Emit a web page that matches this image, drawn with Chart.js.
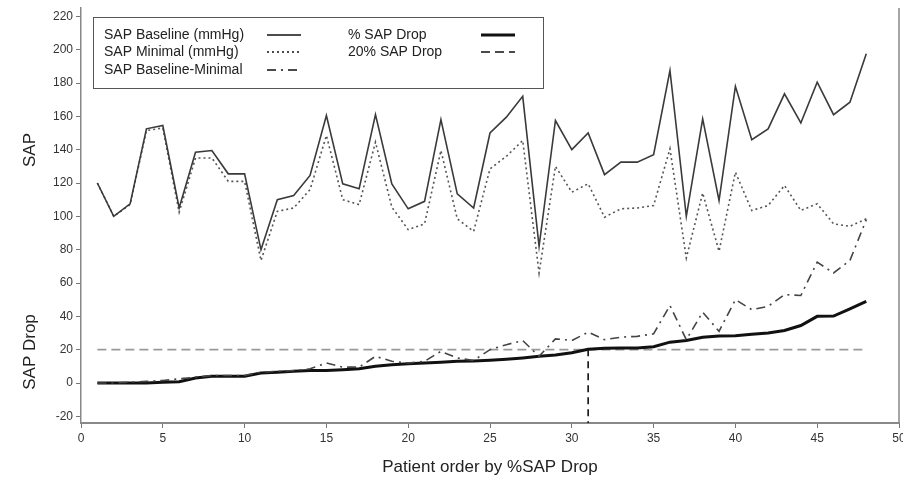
<!DOCTYPE html>
<html>
<head>
<meta charset="utf-8">
<script src="https://cdn.jsdelivr.net/npm/chart.js@4/dist/chart.umd.min.js"></script>
<style>
  html, body { margin: 0; padding: 0; background: #fff; }
  #wrap { width: 903px; height: 485px; }
</style>
</head>
<body>
<div id="wrap"><canvas id="myChart" width="903" height="485"></canvas></div>
<script>
// patient order 1..48
var patients = [1,2,3,4,5,6,7,8,9,10,11,12,13,14,15,16,17,18,19,20,21,22,23,24,
  25,26,27,28,29,30,31,32,33,34,35,36,37,38,39,40,41,42,43,44,45,46,47,48];

var sapBaseline = [120,100,107.5,152.5,154.5,105,138.5,139.5,125.5,125.5,80,110,112.5,124.5,160.5,119.5,
  116.5,161,119.5,104.5,109,158,113.5,105,150,159.5,172,82,157.5,140,150,125,
  132.5,132.5,137,187.5,100,158.5,109.5,178,146,152.5,173.5,156,180.5,161,168.5,197.5];

var sapMinimal = [120,100,107,151.5,153,102.5,135,135,121,121,73.5,103,105,116,148.5,110,
  107,144.5,105.5,92,95.5,139.5,98.5,91,128.5,136,145.5,66,130,114.5,119.5,99.5,
  104.5,105,106.5,140.5,75,114,79,126.5,103.5,106.5,118.5,103.5,107.5,95.5,94,98.5];

var sapDiff = [0,0,0.5,1,1.5,2.5,3.5,4.5,4.5,4.5,6.5,7,7.5,8.5,12,9.5,
  9.5,16,13,12,13,19,15,13.5,20,23,25.5,16,26.5,25.5,30.5,26,
  27.5,28,29.5,46.5,26,42.5,31,50,44,46,53,52.5,72.5,66,73.5,98];

var sapDropPct = [0,0,0,0,0.5,0.8,3,4,4,4,6,6.5,7,7.5,7.5,8,
  8.5,10,11,11.5,12,12.5,13,13.2,13.6,14.2,15,16,16.8,18.2,20.3,20.8,
  21,21,21.8,24.5,25.5,27.5,28.2,28.3,29.2,30,31.5,34.5,40,40.2,44.5,49];

var threshold = 20;       // 20% SAP Drop
var thresholdPatient = 31; // first patient above 20%
var yTicks = [-20,0,20,40,60,80,100,120,140,160,180,200,220];
var xTicks = [0,5,10,15,20,25,30,35,40,45,50];

function toPoints(values) {
  return patients.map(function (p, i) { return { x: p, y: values[i] }; });
}

var yMin = -24, yMax = 225;

// legend + axis titles drawn by hand
var extras = {
  id: 'extras',
  afterDraw: function (chart) {
    var ctx = chart.ctx;
    var area = chart.chartArea;
    ctx.save();

    // right border of the plot frame
    ctx.strokeStyle = '#888';
    ctx.lineWidth = 1.5;
    ctx.beginPath();
    ctx.moveTo(area.right, area.top);
    ctx.lineTo(area.right, area.bottom);
    ctx.stroke();

    // axis titles
    ctx.fillStyle = '#222';
    ctx.font = '17px "Liberation Sans", Arial, sans-serif';
    ctx.textAlign = 'center';
    ctx.textBaseline = 'middle';
    ctx.fillText('Patient order by %SAP Drop', 490, 467);

    ctx.save();
    ctx.translate(30, 150);
    ctx.rotate(-Math.PI / 2);
    ctx.fillText('SAP', 0, 0);
    ctx.restore();
    ctx.save();
    ctx.translate(30, 352);
    ctx.rotate(-Math.PI / 2);
    ctx.fillText('SAP Drop', 0, 0);
    ctx.restore();

    // legend box
    ctx.fillStyle = '#fff';
    ctx.fillRect(93, 17, 450, 71);
    ctx.strokeStyle = '#555';
    ctx.lineWidth = 1;
    ctx.strokeRect(93.5, 17.5, 450, 71);

    ctx.fillStyle = '#222';
    ctx.font = '14px "Liberation Sans", Arial, sans-serif';
    ctx.textAlign = 'left';
    var items = [
      { text: 'SAP Baseline (mmHg)', x: 104, y: 35, sx: 267, ds: chart.data.datasets[0] },
      { text: 'SAP Minimal (mmHg)', x: 104, y: 52, sx: 267, ds: chart.data.datasets[1] },
      { text: 'SAP Baseline-Minimal', x: 104, y: 70, sx: 267, ds: chart.data.datasets[2] },
      { text: '% SAP Drop', x: 348, y: 35, sx: 481, ds: chart.data.datasets[3] },
      { text: '20% SAP Drop', x: 348, y: 52, sx: 481, ds: chart.data.datasets[4] }
    ];
    items.forEach(function (it) {
      ctx.fillStyle = '#222';
      ctx.fillText(it.text, it.x, it.y);
      ctx.strokeStyle = '#111';
      ctx.lineWidth = it.ds.borderWidth;
      ctx.setLineDash(it.ds.borderDash || []);
      ctx.beginPath();
      ctx.moveTo(it.sx, it.y);
      ctx.lineTo(it.sx + 34, it.y);
      ctx.stroke();
    });
    ctx.setLineDash([]);
    ctx.restore();
  }
};

var ctx = document.getElementById('myChart').getContext('2d');
var myChart = new Chart(ctx, {
  type: 'line',
  data: {
    datasets: [{
      label: 'SAP Baseline (mmHg)',
      data: toPoints(sapBaseline),
      borderColor: '#3a3a3a',
      borderWidth: 1.6
    }, {
      label: 'SAP Minimal (mmHg)',
      data: toPoints(sapMinimal),
      borderColor: '#555',
      borderWidth: 1.6,
      borderDash: [2, 3]
    }, {
      label: 'SAP Baseline-Minimal',
      data: toPoints(sapDiff),
      borderColor: '#444',
      borderWidth: 1.6,
      borderDash: [9, 5, 2, 5]
    }, {
      label: '% SAP Drop',
      data: toPoints(sapDropPct),
      borderColor: '#111',
      borderWidth: 3
    }, {
      label: '20% SAP Drop',
      data: [{ x: patients[0], y: threshold }, { x: patients[patients.length - 1], y: threshold }],
      borderColor: '#9a9a9a',
      borderWidth: 1.6,
      borderDash: [9, 5]
    }, {
      label: 'cut',
      data: [{ x: thresholdPatient, y: sapDropPct[thresholdPatient - 1] }, { x: thresholdPatient, y: yMin }],
      borderColor: '#111',
      borderWidth: 1.6,
      borderDash: [7, 5]
    }]
  },
  options: {
    responsive: false,
    animation: false,
    layout: { padding: { top: 8, right: 4, left: 0, bottom: 0 } },
    elements: { point: { radius: 0 }, line: { tension: 0, fill: false } },
    plugins: { legend: { display: false }, tooltip: { enabled: false } },
    scales: {
      x: {
        type: 'linear',
        min: 0,
        max: 50,
        afterBuildTicks: function (scale) {
          scale.ticks = xTicks.map(function (v) { return { value: v }; });
        },
        afterFit: function (scale) {
          scale.height = 62;
          scale.paddingLeft = 0;
          scale.paddingRight = 0;
        },
        grid: { drawOnChartArea: false, drawTicks: true, tickLength: 5, color: '#777' },
        border: { display: true, color: '#888', width: 2 },
        ticks: { color: '#333', font: { size: 12, family: '"Liberation Sans", Arial, sans-serif' }, padding: 3, maxRotation: 0 }
      },
      y: {
        type: 'linear',
        min: yMin,
        max: yMax,
        afterBuildTicks: function (scale) {
          scale.ticks = yTicks.map(function (v) { return { value: v }; });
        },
        afterFit: function (scale) {
          scale.width = 81;
          scale.paddingTop = 0;
          scale.paddingBottom = 0;
        },
        grid: { drawOnChartArea: false, drawTicks: true, tickLength: 5, color: '#777' },
        border: { display: true, color: '#888', width: 1.5 },
        ticks: { color: '#333', font: { size: 12, family: '"Liberation Sans", Arial, sans-serif' }, padding: 3 }
      }
    }
  },
  plugins: [extras]
});
</script>
</body>
</html>
